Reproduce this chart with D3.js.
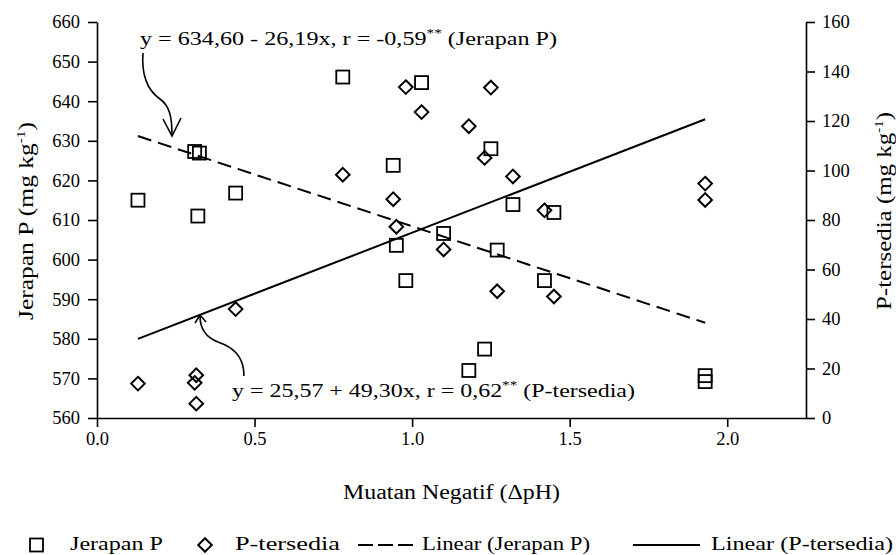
<!DOCTYPE html>
<html>
<head>
<meta charset="utf-8">
<script src="https://cdn.jsdelivr.net/npm/d3@7"></script>
<style>
  body { margin: 0; background: #fff; }
  svg, svg text { font-family: "Times New Roman", "Liberation Serif", Tinos, Times, "DejaVu Serif", serif; }
  svg { display: block; }
</style>
</head>
<body>
<svg id="chart" width="896" height="555"></svg>
<script>
  // Jerapan P (left axis) and P-tersedia (right axis) against Muatan Negatif
  var jerapanX = [0.13, 0.31, 0.325, 0.32, 0.44, 0.78, 0.94, 0.95, 0.98, 1.03, 1.10, 1.18, 1.23, 1.25, 1.27, 1.32, 1.42, 1.45, 1.93, 1.93];
  var jerapanY = [615.0, 627.3, 626.9, 611.0, 616.8, 646.1, 623.8, 603.6, 594.7, 644.7, 606.6, 572.0, 577.4, 628.0, 602.4, 613.9, 594.7, 611.9, 570.7, 569.2];
  var tersediaX = [0.13, 0.31, 0.315, 0.315, 0.44, 0.78, 0.94, 0.95, 0.98, 1.03, 1.10, 1.18, 1.23, 1.25, 1.27, 1.32, 1.42, 1.45, 1.93, 1.93];
  var tersediaY = [13.9, 14.2, 17.3, 5.8, 44.0, 98.3, 88.4, 77.3, 133.7, 123.6, 68.1, 117.9, 105.1, 133.5, 51.2, 97.6, 83.9, 49.1, 94.7, 88.1];

  var leftTicks = [560, 570, 580, 590, 600, 610, 620, 630, 640, 650, 660];
  var rightTicks = [0, 20, 40, 60, 80, 100, 120, 140, 160];
  var bottomTicks = [0, 0.5, 1.0, 1.5, 2.0];

  // regression equations as printed: [intercept, slope], drawn over the data range
  var fitJerapan = [634.60, -26.19];
  var fitTersedia = [25.57, 49.30];
  var fitRange = [0.13, 1.93];

  var svg = d3.select('#chart');

  var x = d3.scaleLinear().domain([0, 2.25]).range([97, 806]);
  var yLeft = d3.scaleLinear().domain([560, 660]).range([418, 22]);
  var yRight = d3.scaleLinear().domain([0, 160]).range([418, 22]);

  function styleAxis(g) {
    g.attr('font-family', null);
    g.select('.domain').attr('stroke', '#000').attr('stroke-width', 1.6);
    g.selectAll('.tick line').attr('stroke', '#000').attr('stroke-width', 1.6);
    g.selectAll('.tick text')
      .attr('fill', '#000')
      .attr('font-size', 18.5);
  }

  svg.append('g')
    .attr('transform', 'translate(0,418)')
    .call(d3.axisBottom(x).tickValues(bottomTicks).tickFormat(d3.format('.1f'))
      .tickSize(9).tickSizeOuter(0).tickPadding(5))
    .call(styleAxis);

  svg.append('g')
    .attr('transform', 'translate(97,0)')
    .call(d3.axisLeft(yLeft).tickValues(leftTicks).tickFormat(d3.format('d'))
      .tickSize(9).tickSizeOuter(0).tickPadding(8))
    .call(styleAxis);

  svg.append('g')
    .attr('transform', 'translate(806,0)')
    .call(d3.axisRight(yRight).tickValues(rightTicks).tickFormat(d3.format('d'))
      .tickSize(9).tickSizeOuter(0).tickPadding(7))
    .call(styleAxis);

  // trend lines
  var lineLeft = d3.line()
    .x(function(d) { return x(d); })
    .y(function(d) { return yLeft(fitJerapan[0] + fitJerapan[1] * d); });
  var lineRight = d3.line()
    .x(function(d) { return x(d); })
    .y(function(d) { return yRight(fitTersedia[0] + fitTersedia[1] * d); });

  svg.append('path')
    .attr('d', lineLeft(fitRange))
    .attr('fill', 'none')
    .attr('stroke', '#000')
    .attr('stroke-width', 2)
    .attr('stroke-dasharray', '14,7');

  svg.append('path')
    .attr('d', lineRight(fitRange))
    .attr('fill', 'none')
    .attr('stroke', '#000')
    .attr('stroke-width', 2);

  // markers
  var squares = d3.zip(jerapanX, jerapanY);
  var diamonds = d3.zip(tersediaX, tersediaY);

  svg.append('g').selectAll('rect')
    .data(squares)
    .enter().append('rect')
    .attr('x', function(d) { return x(d[0]) - 6.5; })
    .attr('y', function(d) { return yLeft(d[1]) - 6.5; })
    .attr('width', 13)
    .attr('height', 13)
    .attr('fill', 'none')
    .attr('stroke', '#000')
    .attr('stroke-width', 1.8);

  var diamond = 'M0,-6.8L6.8,0L0,6.8L-6.8,0Z';

  svg.append('g').selectAll('path')
    .data(diamonds)
    .enter().append('path')
    .attr('transform', function(d) { return 'translate(' + x(d[0]) + ',' + yRight(d[1]) + ')'; })
    .attr('d', diamond)
    .attr('fill', 'none')
    .attr('stroke', '#000')
    .attr('stroke-width', 2);

  // text with an optional superscript in the middle
  function richText(parent, opts) {
    var t = parent.append('text')
      .attr('font-size', opts.size || 19)
      .attr('fill', '#000');
    if (opts.transform) t.attr('transform', opts.transform);
    else t.attr('x', opts.x).attr('y', opts.y);
    if (opts.anchor) t.attr('text-anchor', opts.anchor);
    t.append('tspan').text(opts.before);
    if (opts.sup) {
      t.append('tspan').attr('font-size', opts.supSize || 12).attr('dy', -8).text(opts.sup);
      t.append('tspan').attr('dy', 8).text(opts.after || '');
    }
    if (opts.width) t.attr('textLength', opts.width).attr('lengthAdjust', 'spacingAndGlyphs');
    return t;
  }

  richText(svg, { x: 140, y: 45, before: 'y = 634,60 - 26,19x, r = -0,59', sup: '**', after: ' (Jerapan P)', width: 417 });
  richText(svg, { x: 232, y: 397, before: 'y = 25,57 + 49,30x, r = 0,62', sup: '**', after: ' (P-tersedia)', width: 403 });

  richText(svg, { x: 451.5, y: 499, anchor: 'middle', size: 20, before: 'Muatan Negatif (\u0394pH)', width: 217 });
  richText(svg, { transform: 'translate(33,221) rotate(-90)', anchor: 'middle', size: 20,
    before: 'Jerapan P (mg kg', sup: '-1', after: ')', width: 198 });
  richText(svg, { transform: 'translate(891,211) rotate(-90)', anchor: 'middle', size: 20,
    before: 'P-tersedia (mg kg', sup: '-1', after: ')', width: 198 });

  // annotation arrows
  var arrows = svg.append('g')
    .attr('fill', 'none')
    .attr('stroke', '#000')
    .attr('stroke-width', 1.6);
  arrows.append('path').attr('d', 'M143,53 C141,80 150,92 160,99 C170,106 172,118 172,135');
  arrows.append('path').attr('d', 'M163,119 L172,136 L181,118');
  arrows.append('path').attr('d', 'M244,376 C244,355 232,347 218,342 C205,337 200,328 200,316');
  arrows.append('path').attr('d', 'M195,323 L200,315 L206,322');

  // legend
  var legend = svg.append('g');
  legend.append('rect')
    .attr('x', 30).attr('y', 538.5).attr('width', 13).attr('height', 13)
    .attr('fill', 'none').attr('stroke', '#000').attr('stroke-width', 1.8);
  richText(legend, { x: 70, y: 550, before: 'Jerapan P', width: 93 });
  legend.append('path')
    .attr('transform', 'translate(205,545)')
    .attr('d', diamond)
    .attr('fill', 'none').attr('stroke', '#000').attr('stroke-width', 2);
  richText(legend, { x: 235, y: 550, before: 'P-tersedia', width: 105 });
  legend.append('line')
    .attr('x1', 358).attr('x2', 417).attr('y1', 545).attr('y2', 545)
    .attr('stroke', '#000').attr('stroke-width', 2).attr('stroke-dasharray', '15,5');
  richText(legend, { x: 422, y: 550, before: 'Linear (Jerapan P)', width: 168 });
  legend.append('line')
    .attr('x1', 633).attr('x2', 700).attr('y1', 545).attr('y2', 545)
    .attr('stroke', '#000').attr('stroke-width', 2);
  richText(legend, { x: 711, y: 550, before: 'Linear (P-tersedia)', width: 182 });
</script>
</body>
</html>
